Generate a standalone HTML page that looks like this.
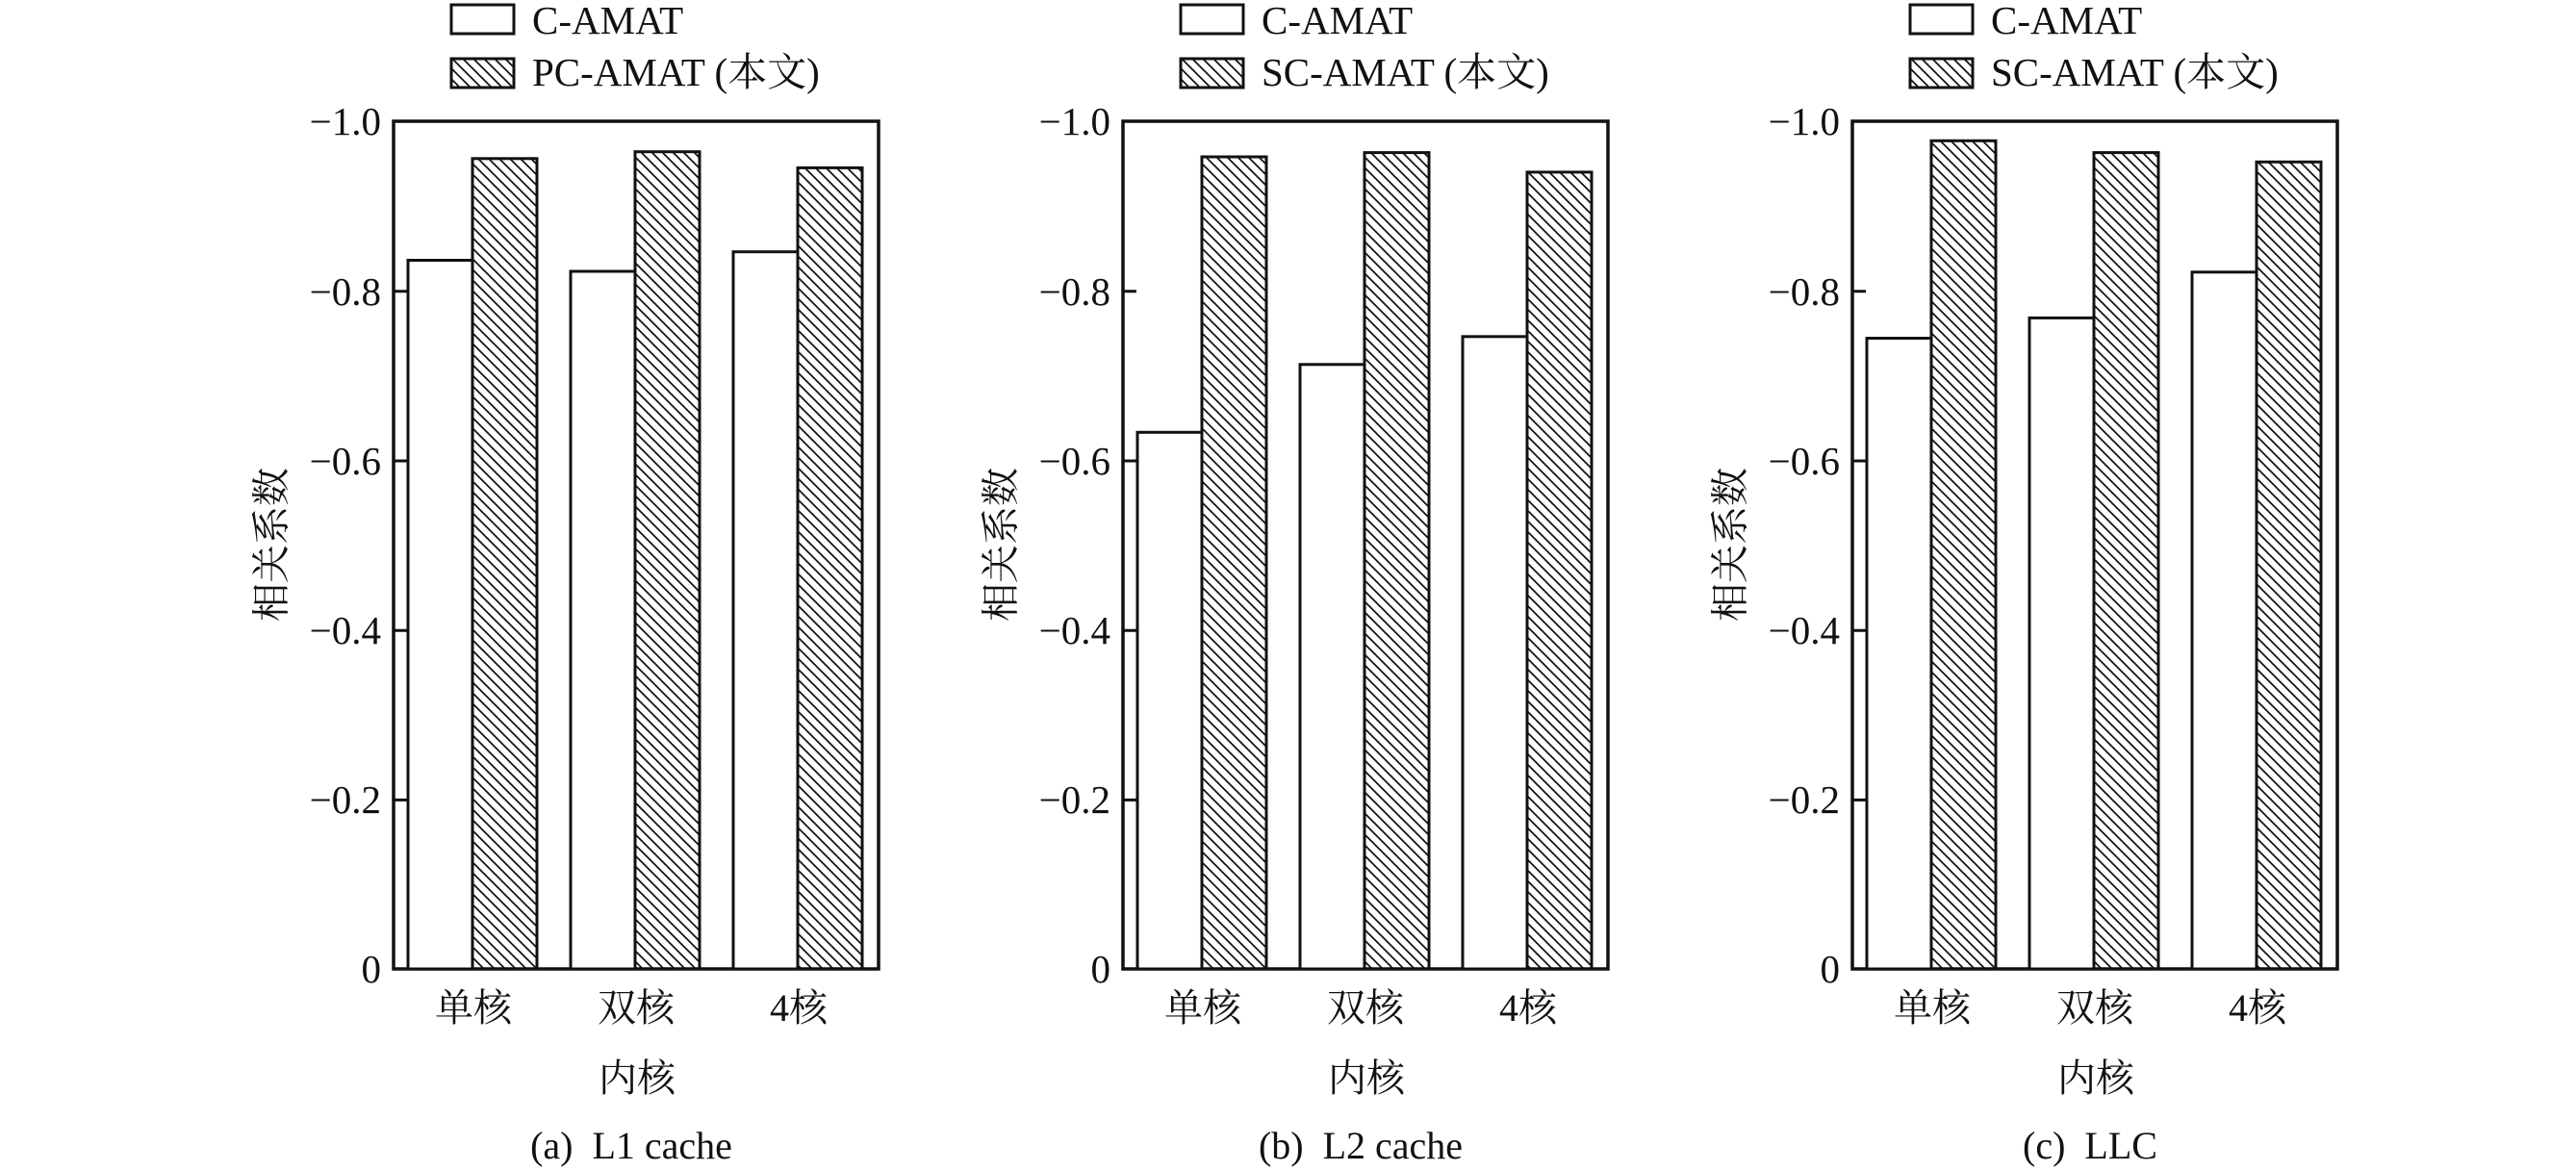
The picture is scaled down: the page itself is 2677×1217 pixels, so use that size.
<!DOCTYPE html>
<html><head><meta charset="utf-8"><style>
html,body{margin:0;padding:0;background:#fff;}
svg{display:block;}
text{font-family:"Liberation Serif","Noto Serif CJK SC","Noto Sans CJK SC",serif;fill:#111;}
</style></head><body>
<svg width="2677" height="1217" viewBox="0 0 2677 1217" xmlns="http://www.w3.org/2000/svg">
<defs>
<pattern id="h" patternUnits="userSpaceOnUse" width="11" height="11">
<path d="M-3,-3 L14,14 M-14,-3 L3,14 M8,-3 L25,14" stroke="#111" stroke-width="1.7"/>
</pattern>
<g id="axes">
<rect x="0" y="126" width="504" height="881" fill="none" stroke="#111" stroke-width="3.5"/>
<path d="M0,302.8H14 M0,479H14 M0,655.2H14 M0,831.4H14" stroke="#111" stroke-width="3"/>
<g font-size="41" text-anchor="end">
<text x="-13" y="140">−1.0</text>
<text x="-13" y="317">−0.8</text>
<text x="-13" y="493">−0.6</text>
<text x="-13" y="669">−0.4</text>
<text x="-13" y="845">−0.2</text>
<text x="-13" y="1021">0</text>
</g>
<g font-size="40" text-anchor="middle">
<text x="83" y="1061">单核</text>
<text x="252" y="1061">双核</text>
<text x="421" y="1061">4核</text>
<text x="253" y="1134">内核</text>
</g>
<text font-size="40" transform="translate(-127,566) rotate(-90)" text-anchor="middle" dominant-baseline="central">相关系数</text>
<rect x="60" y="5" width="65" height="30" fill="#fff" stroke="#111" stroke-width="3"/>
<rect x="60" y="61" width="65" height="30" fill="url(#h)" stroke="#111" stroke-width="3"/>
<text x="144" y="35" font-size="41">C-AMAT</text>
</g>
</defs>

<!-- Panel a -->
<g transform="translate(409,0)">
<use href="#axes"/>
<text x="144" y="89" font-size="41">PC-AMAT (本文)</text>
<g stroke="#111" stroke-width="3">
<rect x="15" y="270.5" width="67" height="736.5" fill="#fff"/>
<rect x="82" y="164.8" width="67" height="842.2" fill="url(#h)"/>
<rect x="184" y="282" width="67" height="725" fill="#fff"/>
<rect x="251" y="157.7" width="67" height="849.3" fill="url(#h)"/>
<rect x="353" y="261.7" width="67" height="745.3" fill="#fff"/>
<rect x="420" y="174.4" width="67" height="832.6" fill="url(#h)"/>
</g>
<text x="247" y="1204" font-size="40" text-anchor="middle" xml:space="preserve">(a)  L1 cache</text>
</g>

<!-- Panel b -->
<g transform="translate(1167,0)">
<use href="#axes"/>
<text x="144" y="89" font-size="41">SC-AMAT (本文)</text>
<g stroke="#111" stroke-width="3">
<rect x="15" y="449.3" width="67" height="557.7" fill="#fff"/>
<rect x="82" y="163" width="67" height="844" fill="url(#h)"/>
<rect x="184" y="378.8" width="67" height="628.2" fill="#fff"/>
<rect x="251" y="158.6" width="67" height="848.4" fill="url(#h)"/>
<rect x="353" y="349.8" width="67" height="657.2" fill="#fff"/>
<rect x="420" y="178.9" width="67" height="828.1" fill="url(#h)"/>
</g>
<text x="247" y="1204" font-size="40" text-anchor="middle" xml:space="preserve">(b)  L2 cache</text>
</g>

<!-- Panel c -->
<g transform="translate(1925,0)">
<use href="#axes"/>
<text x="144" y="89" font-size="41">SC-AMAT (本文)</text>
<g stroke="#111" stroke-width="3">
<rect x="15" y="351.5" width="67" height="655.5" fill="#fff"/>
<rect x="82" y="146.3" width="67" height="860.7" fill="url(#h)"/>
<rect x="184" y="330.4" width="67" height="676.6" fill="#fff"/>
<rect x="251" y="158.6" width="67" height="848.4" fill="url(#h)"/>
<rect x="353" y="282.8" width="67" height="724.2" fill="#fff"/>
<rect x="420" y="168.3" width="67" height="838.7" fill="url(#h)"/>
</g>
<text x="247" y="1204" font-size="40" text-anchor="middle" xml:space="preserve">(c)  LLC</text>
</g>
</svg>
</body></html>
